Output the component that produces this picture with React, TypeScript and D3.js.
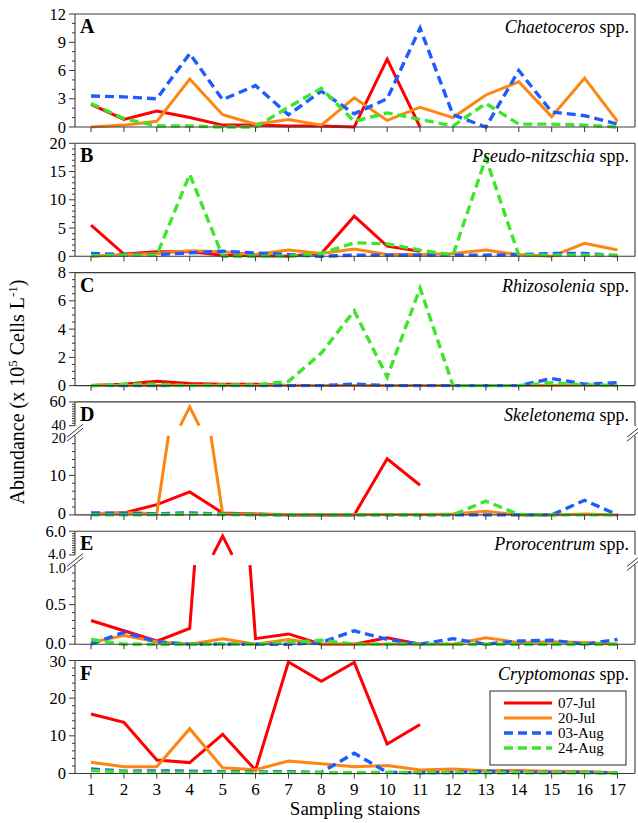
import React from "react";
import * as d3 from "d3";

// Sampling stations along the x axis
const stations = [1, 2, 3, 4, 5, 6, 7, 8, 9, 10, 11, 12, 13, 14, 15, 16, 17];
const surveyDates = ["07-Jul", "20-Jul", "03-Aug", "24-Aug"];

// Chaetoceros spp. (x 10^5 cells/L)
const chaetocerosJul07 = [2.4, 0.8, 1.7, 1.0, 0.2, 0.2, 0.1, 0.1, 0.0, 7.2, 0.0];
const chaetocerosJul20 = [0.0, 0.2, 0.6, 5.1, 1.3, 0.3, 0.8, 0.2, 3.1, 0.7, 2.1, 1.0, 3.4, 4.8, 1.1, 5.2, 0.6];
const chaetocerosAug03 = [3.3, 3.2, 3.0, 7.8, 2.9, 4.4, 1.3, 3.8, 1.4, 3.0, 10.5, 1.3, 0.0, 6.0, 1.6, 1.2, 0.3];
const chaetocerosAug24 = [2.5, 0.9, 0.1, 0.1, 0.0, 0.0, 2.1, 4.1, 0.6, 1.5, 0.8, 0.1, 2.5, 0.3, 0.3, 0.2, 0.0];

// Pseudo-nitzschia spp.
const pseudoJul07 = [5.5, 0.4, 0.8, 0.8, 0.2, 0.1, 0.0, 0.5, 7.1, 1.8, 0.9];
const pseudoJul20 = [0.0, 0.3, 0.5, 1.0, 0.8, 0.3, 1.1, 0.5, 1.3, 0.3, 0.3, 0.5, 1.1, 0.3, 0.0, 2.3, 1.1];
const pseudoAug03 = [0.5, 0.3, 0.3, 0.6, 0.9, 0.6, 0.3, 0.0, 0.2, 0.2, 0.2, 0.2, 0.2, 0.3, 0.5, 0.5, 0.1];
const pseudoAug24 = [0.1, 0.2, 0.2, 14.5, 0.0, 0.0, 0.0, 0.5, 2.4, 2.2, 1.1, 0.2, 17.4, 0.2, 0.2, 0.2, 0.2];

// Rhizosolenia spp.
const rhizoJul07 = [0.0, 0.1, 0.3, 0.15, 0.1, 0.1, 0.0, 0.0, 0.0, 0.0, 0.0];
const rhizoJul20 = [0.0, 0.0, 0.0, 0.0, 0.0, 0.0, 0.0, 0.0, 0.0, 0.0, 0.0, 0.0, 0.0, 0.0, 0.0, 0.05, 0.0];
const rhizoAug03 = [0.0, 0.0, 0.0, 0.0, 0.0, 0.0, 0.0, 0.0, 0.1, 0.0, 0.0, 0.0, 0.0, 0.0, 0.5, 0.1, 0.2];
const rhizoAug24 = [0.0, 0.1, 0.1, 0.0, 0.05, 0.05, 0.3, 2.3, 5.3, 0.6, 6.9, 0.0, 0.0, 0.0, 0.2, 0.05, 0.0];

// Skeletonema spp.
const skelJul07 = [0.3, 0.5, 2.6, 5.8, 0.5, 0.2, 0.0, 0.0, 0.0, 14.2, 7.5];
const skelJul20 = [0.3, 0.6, 0.3, 55.8, 0.3, 0.2, 0.1, 0.1, 0.1, 0.1, 0.1, 0.2, 0.9, 0.0, 0.0, 0.2, 0.0];
const skelAug03 = [0.5, 0.4, 0.3, 0.5, 0.2, 0.1, 0.0, 0.0, 0.0, 0.0, 0.0, 0.0, 0.0, 0.0, 0.0, 3.7, 0.0];
const skelAug24 = [0.0, 0.0, 0.1, 0.2, 0.1, 0.0, 0.0, 0.0, 0.0, 0.0, 0.0, 0.0, 3.5, 0.1, 0.0, 0.0, 0.0];

// Prorocentrum spp.
const proroJul07 = [0.3, 0.17, 0.04, 0.2, 5.6, 0.07, 0.13, 0.0, 0.0, 0.08, 0.0];
const proroJul20 = [0.02, 0.11, 0.03, 0.0, 0.07, 0.0, 0.06, 0.0, 0.0, 0.0, 0.0, 0.0, 0.08, 0.02, 0.03, 0.02, 0.0];
const proroAug03 = [0.0, 0.15, 0.03, 0.0, 0.0, 0.0, 0.0, 0.02, 0.17, 0.06, 0.0, 0.07, 0.0, 0.04, 0.05, 0.0, 0.06];
const proroAug24 = [0.06, 0.0, 0.0, 0.0, 0.0, 0.0, 0.02, 0.05, 0.0, 0.0, 0.0, 0.0, 0.0, 0.0, 0.0, 0.0, 0.0];

// Cryptomonas spp.
const cryptoJul07 = [15.8, 13.6, 3.6, 2.9, 10.4, 0.9, 29.6, 24.5, 29.5, 7.8, 13.0];
const cryptoJul20 = [3.0, 1.8, 1.8, 11.9, 1.5, 1.0, 3.3, 2.6, 1.8, 2.1, 0.9, 1.2, 0.7, 0.8, 0.6, 0.5, 0.2];
const cryptoAug03 = [1.2, 0.6, 0.7, 0.6, 0.5, 0.4, 0.5, 0.3, 5.4, 0.3, 0.2, 0.3, 0.6, 0.4, 0.3, 0.3, 0.1];
const cryptoAug24 = [0.8, 0.4, 0.3, 0.3, 0.3, 0.2, 0.3, 0.2, 0.2, 0.3, 0.2, 0.2, 0.2, 0.2, 0.2, 0.2, 0.1];

type Seg = { lo: number; hi: number; major: number[]; minor: number; labels: string[]; f0: number; f1: number };
type Panel = { letter: string; genus: string; series: number[][]; segs: Seg[] };

const panels: Panel[] = [
  { letter: "A", genus: "Chaetoceros", series: [chaetocerosJul07, chaetocerosJul20, chaetocerosAug03, chaetocerosAug24],
    segs: [{ lo: 0, hi: 12, major: [0, 3, 6, 9, 12], minor: 1, labels: ["0", "3", "6", "9", "12"], f0: 0, f1: 1 }] },
  { letter: "B", genus: "Pseudo-nitzschia", series: [pseudoJul07, pseudoJul20, pseudoAug03, pseudoAug24],
    segs: [{ lo: 0, hi: 20, major: [0, 5, 10, 15, 20], minor: 1, labels: ["0", "5", "10", "15", "20"], f0: 0, f1: 1 }] },
  { letter: "C", genus: "Rhizosolenia", series: [rhizoJul07, rhizoJul20, rhizoAug03, rhizoAug24],
    segs: [{ lo: 0, hi: 8, major: [0, 2, 4, 6, 8], minor: 0.5, labels: ["0", "2", "4", "6", "8"], f0: 0, f1: 1 }] },
  { letter: "D", genus: "Skeletonema", series: [skelJul07, skelJul20, skelAug03, skelAug24],
    segs: [
      { lo: 0, hi: 20, major: [0, 10, 20], minor: 2, labels: ["0", "10", "20"], f0: 0, f1: 0.7 },
      { lo: 40, hi: 60, major: [40, 60], minor: 2, labels: ["40", "60"], f0: 0.79, f1: 1 },
    ] },
  { letter: "E", genus: "Prorocentrum", series: [proroJul07, proroJul20, proroAug03, proroAug24],
    segs: [
      { lo: 0, hi: 1, major: [0, 0.5, 1], minor: 0.1, labels: ["0.0", "0.5", "1.0"], f0: 0, f1: 0.7 },
      { lo: 4, hi: 6, major: [4, 6], minor: 0.2, labels: ["4.0", "6.0"], f0: 0.79, f1: 1 },
    ] },
  { letter: "F", genus: "Cryptomonas", series: [cryptoJul07, cryptoJul20, cryptoAug03, cryptoAug24],
    segs: [{ lo: 0, hi: 30, major: [0, 10, 20, 30], minor: 2, labels: ["0", "10", "20", "30"], f0: 0, f1: 1 }] },
];

const COLORS = ["#ff0000", "#ff8512", "#1f5cff", "#3de52b"];
const DASHED = [false, false, true, true];

const W = 638, H = 823;
const LEFT = 75, RIGHT = 635;
const TOP0 = 14, STEP = 129.3, PH = 113;
const AXIS = "#3a3a3a";

const x = d3.scaleLinear().domain([1, 17]).range([91, 617.5]);

function segScales(top: number, segs: Seg[]) {
  return segs.map((s) =>
    d3.scaleLinear().domain([s.lo, s.hi]).range([top + PH - s.f0 * PH, top + PH - s.f1 * PH])
  );
}

// Builds one continuous path through piecewise-linear y segments, dropping the parts that fall in an axis break
function seriesPath(values: number[], segs: Seg[], scales: d3.ScaleLinear<number, number>[]) {
  let d = "";
  let last: [number, number] | null = null;
  const bounds: number[] = [];
  segs.forEach((s) => { bounds.push(s.lo, s.hi); });
  const which = (v: number) => segs.findIndex((s) => v >= s.lo - 1e-9 && v <= s.hi + 1e-9);
  for (let i = 0; i < values.length - 1; i++) {
    const x0 = stations[i], x1 = stations[i + 1];
    const y0 = values[i], y1 = values[i + 1];
    const ts = [0, 1];
    bounds.forEach((b) => {
      if ((y0 - b) * (y1 - b) < 0) ts.push((b - y0) / (y1 - y0));
    });
    ts.sort((a, b) => a - b);
    for (let k = 0; k < ts.length - 1; k++) {
      const ta = ts[k], tb = ts[k + 1];
      if (tb - ta < 1e-9) continue;
      const vm = y0 + (y1 - y0) * ((ta + tb) / 2);
      const si = which(vm);
      if (si < 0) continue;
      const sc = scales[si];
      const pa: [number, number] = [x(x0 + (x1 - x0) * ta), sc(y0 + (y1 - y0) * ta)];
      const pb: [number, number] = [x(x0 + (x1 - x0) * tb), sc(y0 + (y1 - y0) * tb)];
      if (!last || Math.hypot(last[0] - pa[0], last[1] - pa[1]) > 0.01) d += `M${pa[0].toFixed(2)},${pa[1].toFixed(2)}`;
      d += `L${pb[0].toFixed(2)},${pb[1].toFixed(2)}`;
      last = pb;
    }
  }
  return d;
}

function BreakMarks({ cx, cy }: { cx: number; cy: number }) {
  return (
    <g stroke={AXIS} strokeWidth={1}>
      <polygon
        points={`${cx - 8},${cy + 4.5} ${cx + 8},${cy - 8.5} ${cx + 8},${cy - 4.5} ${cx - 8},${cy + 8.5}`}
        fill="#fff"
        stroke="none"
      />
      <line x1={cx - 8} y1={cy + 4.5} x2={cx + 8} y2={cy - 8.5} />
      <line x1={cx - 8} y1={cy + 8.5} x2={cx + 8} y2={cy - 4.5} />
    </g>
  );
}

const textStyle = { fontFamily: "'Liberation Serif', 'Times New Roman', Times, serif" };

function PanelView({ p, idx }: { p: Panel; idx: number }) {
  const top = TOP0 + idx * STEP;
  const bottom = top + PH;
  const scales = segScales(top, p.segs);
  const broken = p.segs.length > 1;
  const clipId = `clip-${p.letter}`;

  const axisRuns = p.segs.map((s, i) => [scales[i](s.lo), scales[i](s.hi)]);

  return (
    <g>
      <defs>
        <clipPath id={clipId}>
          <rect x={LEFT} y={top - 2} width={RIGHT - LEFT} height={PH + 4} />
        </clipPath>
      </defs>

      {/* data lines */}
      <g clipPath={`url(#${clipId})`} fill="none" strokeLinejoin="miter" strokeLinecap="butt">
        {p.series.map((vals, si) => (
          <path
            key={si}
            d={seriesPath(vals, p.segs, scales)}
            stroke={COLORS[si]}
            strokeWidth={DASHED[si] ? 3.4 : 3}
            strokeDasharray={DASHED[si] ? "9,5" : undefined}
          />
        ))}
      </g>

      {/* frame */}
      <g stroke={AXIS} strokeWidth={1.1} fill="none">
        <line x1={LEFT} x2={RIGHT} y1={top} y2={top} />
        <line x1={LEFT} x2={RIGHT} y1={bottom} y2={bottom} />
        {axisRuns.map(([y0, y1], i) => (
          <g key={i}>
            <line x1={LEFT} x2={LEFT} y1={y0} y2={y1} />
            <line x1={RIGHT} x2={RIGHT} y1={y0} y2={y1} />
          </g>
        ))}
      </g>

      {/* x ticks */}
      <g stroke={AXIS} strokeWidth={1}>
        {stations.map((s) => (
          <line key={s} x1={x(s)} x2={x(s)} y1={bottom} y2={bottom + 5} />
        ))}
      </g>

      {/* y ticks and labels */}
      {p.segs.map((s, i) => {
        const sc = scales[i];
        const minors = d3.range(s.lo, s.hi + s.minor / 2, s.minor).filter(
          (v) => !s.major.some((m) => Math.abs(m - v) < 1e-6)
        );
        return (
          <g key={i}>
            <g stroke={AXIS} strokeWidth={1}>
              {s.major.map((m) => (
                <line key={m} x1={LEFT - 6} x2={LEFT} y1={sc(m)} y2={sc(m)} />
              ))}
              {minors.map((m) => (
                <line key={m} x1={LEFT - 3} x2={LEFT} y1={sc(m)} y2={sc(m)} />
              ))}
            </g>
            <g style={textStyle} textAnchor="end" fill="#000">
              {s.major.map((m, j) => {
                let dy = 5.5;
                let fs = 16.5;
                if (broken && i === 0 && m === s.hi) { dy = 7.5; fs = 14.5; }
                if (broken && i === 1 && m === s.lo) { dy = 4; fs = 14.5; }
                if (!broken && idx === 5 && m === s.hi) dy = 6.5;
                if (broken && i === 0 && m === s.lo) dy = 4.5;
                return (
                  <text key={m} x={LEFT - 9} y={sc(m) + dy} fontSize={fs}>
                    {s.labels[j]}
                  </text>
                );
              })}
            </g>
          </g>
        );
      })}

      {broken && (
        <>
          <BreakMarks cx={LEFT} cy={(axisRuns[0][1] + axisRuns[1][0]) / 2 + 2} />
          <BreakMarks cx={RIGHT} cy={(axisRuns[0][1] + axisRuns[1][0]) / 2 + 2} />
        </>
      )}

      {/* panel letter and taxon name */}
      <text x={80} y={top + 19} style={textStyle} fontSize={20} fontWeight="bold" fill="#000">
        {p.letter}
      </text>
      <text x={RIGHT - 6} y={top + 19} style={textStyle} fontSize={18} textAnchor="end" fill="#000">
        <tspan fontStyle="italic">{p.genus}</tspan>
        <tspan> spp.</tspan>
      </text>
    </g>
  );
}

function Legend() {
  const bx = 490, by = 691, bw = 136, bh = 74;
  return (
    <g>
      <rect x={bx} y={by} width={bw} height={bh} fill="#fff" stroke={AXIS} strokeWidth={1.1} />
      {surveyDates.map((name, i) => {
        const cy = by + 12 + i * 15;
        return (
          <g key={name}>
            <line
              x1={bx + 14}
              x2={bx + 62}
              y1={cy}
              y2={cy}
              stroke={COLORS[i]}
              strokeWidth={DASHED[i] ? 3.4 : 3}
              strokeDasharray={DASHED[i] ? "9,5" : undefined}
            />
            <text x={bx + 68} y={cy + 5} style={textStyle} fontSize={15} fill="#000">
              {name}
            </text>
          </g>
        );
      })}
    </g>
  );
}

export default function App() {
  const lastBottom = TOP0 + 5 * STEP + PH;
  return (
    <svg
      width={W}
      height={H}
      viewBox={`0 0 ${W} ${H}`}
      style={{ position: "absolute", left: 0, top: 0, background: "#fff" }}
    >
      <rect x={0} y={0} width={W} height={H} fill="#fff" />
      {panels.map((p, i) => (
        <PanelView key={p.letter} p={p} idx={i} />
      ))}
      <Legend />

      {/* x tick labels */}
      <g style={textStyle} fontSize={17} textAnchor="middle" fill="#000">
        {stations.map((s) => (
          <text key={s} x={x(s)} y={lastBottom + 21}>
            {s}
          </text>
        ))}
      </g>
      <text x={(LEFT + RIGHT) / 2} y={lastBottom + 41} style={textStyle} fontSize={19} textAnchor="middle" fill="#000">
        Sampling staions
      </text>

      {/* y axis title */}
      <text
        transform={`translate(24, 392) rotate(-90)`}
        style={textStyle}
        fontSize={20}
        textAnchor="middle"
        fill="#000"
      >
        Abundance (x 10
        <tspan dy={-7} fontSize={13}>5</tspan>
        <tspan dy={7}> Cells L</tspan>
        <tspan dy={-7} fontSize={13}>-1</tspan>
        <tspan dy={7}>)</tspan>
      </text>
    </svg>
  );
}
